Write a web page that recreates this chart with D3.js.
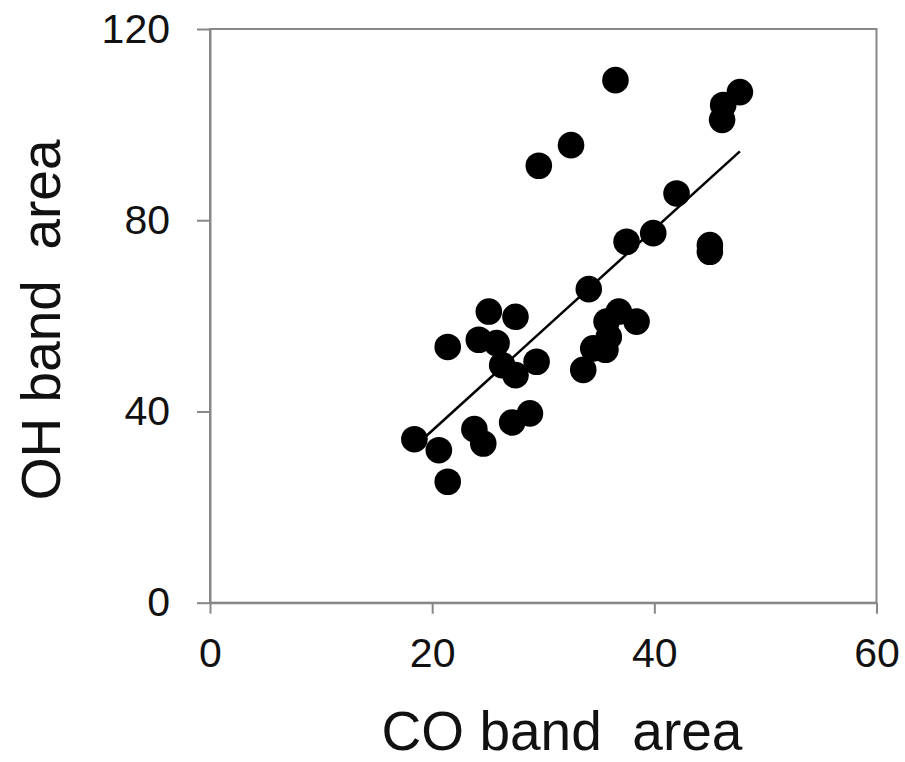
<!DOCTYPE html>
<html>
<head>
<meta charset="utf-8">
<script src="https://cdn.jsdelivr.net/npm/d3@7"></script>
<style>
  html, body { margin: 0; padding: 0; background: #fff; }
  text { font-family: "Liberation Sans", Arial, sans-serif; fill: #111; }
</style>
</head>
<body>
<svg id="chart" width="905" height="762"></svg>
<script>
// CO band area (x) and OH band area (y) for each sample
const coArea = [18.4, 20.6, 21.4, 21.4, 23.8, 24.6, 27.2, 28.8, 25.1, 27.5,
                24.2, 25.8, 26.3, 27.5, 29.4, 29.6, 32.5, 36.5, 34.1, 37.5,
                39.9, 42.0, 45.0, 45.0, 46.1, 46.2, 47.7, 33.6, 34.5, 35.6,
                35.9, 35.7, 36.8, 38.4];
const ohArea = [34.2, 31.9, 25.3, 53.5, 36.3, 33.3, 37.7, 39.6, 60.9, 59.8,
                55.0, 54.3, 49.7, 47.6, 50.4, 91.4, 95.7, 109.3, 65.6, 75.5,
                77.3, 85.6, 74.8, 73.4, 101.0, 104.1, 106.8, 48.7, 53.2, 52.9,
                55.6, 58.8, 60.9, 58.8];
const xTicks = [0, 20, 40, 60];
const yTicks = [0, 40, 80, 120];
const xTitle = "CO band  area";
const yTitle = "OH band  area";

(function () {
const svg = d3.select("#chart");
const mLeft = 210, mRight = 876.5, mTop = 29, mBottom = 602.7;

const x = d3.scaleLinear().domain([0, 60]).range([mLeft, mRight]);
const y = d3.scaleLinear().domain([0, 120]).range([mBottom, mTop]);

const axisColor = "#878787";
const font = "'Liberation Sans', Arial, sans-serif";

// frame (top and right)
svg.append("rect")
  .attr("x", mLeft).attr("y", mTop)
  .attr("width", mRight - mLeft).attr("height", mBottom - mTop)
  .attr("fill", "none").attr("stroke", axisColor).attr("stroke-width", 2);

// x axis
const gx = svg.append("g").attr("transform", `translate(0,${mBottom})`)
  .call(d3.axisBottom(x).tickValues(xTicks).tickSize(11).tickSizeOuter(0).tickPadding(24));
gx.select(".domain").attr("stroke", axisColor).attr("stroke-width", 2);
gx.selectAll(".tick line").attr("stroke", axisColor).attr("stroke-width", 2);
gx.selectAll(".tick text").attr("font-size", 41).style("font-family", font).attr("fill", "#111");

// y axis
const gy = svg.append("g").attr("transform", `translate(${mLeft},0)`)
  .call(d3.axisLeft(y).tickValues(yTicks).tickSize(13).tickSizeOuter(0).tickPadding(27));
gy.select(".domain").attr("stroke", axisColor).attr("stroke-width", 2);
gy.selectAll(".tick line").attr("stroke", axisColor).attr("stroke-width", 2);
gy.selectAll(".tick text").attr("font-size", 41).style("font-family", font).attr("fill", "#111");

// linear regression trendline
const n = coArea.length;
const mx = d3.mean(coArea), my = d3.mean(ohArea);
let sxy = 0, sxx = 0;
for (let i = 0; i < n; i++) { sxy += (coArea[i]-mx)*(ohArea[i]-my); sxx += (coArea[i]-mx)**2; }
const slope = sxy / sxx, icpt = my - slope * mx;
const [xmin, xmax] = d3.extent(coArea);
svg.append("line")
  .attr("x1", x(xmin)).attr("y1", y(icpt + slope*xmin))
  .attr("x2", x(xmax)).attr("y2", y(icpt + slope*xmax))
  .attr("stroke", "#000").attr("stroke-width", 2.5);

// points
svg.append("g").selectAll("circle")
  .data(coArea.map((v, i) => [v, ohArea[i]]))
  .join("circle")
  .attr("cx", d => x(d[0])).attr("cy", d => y(d[1]))
  .attr("r", 13.3).attr("fill", "#000");

// axis titles
svg.append("text")
  .attr("x", 562).attr("y", 750)
  .attr("text-anchor", "middle").attr("font-size", 55)
  .style("white-space", "pre")
  .text(xTitle);

svg.append("text")
  .attr("transform", `translate(60,${(mTop + mBottom) / 2 + 4}) rotate(-90)`)
  .attr("text-anchor", "middle").attr("font-size", 55)
  .style("white-space", "pre")
  .text(yTitle);
})();
</script>
</body>
</html>
